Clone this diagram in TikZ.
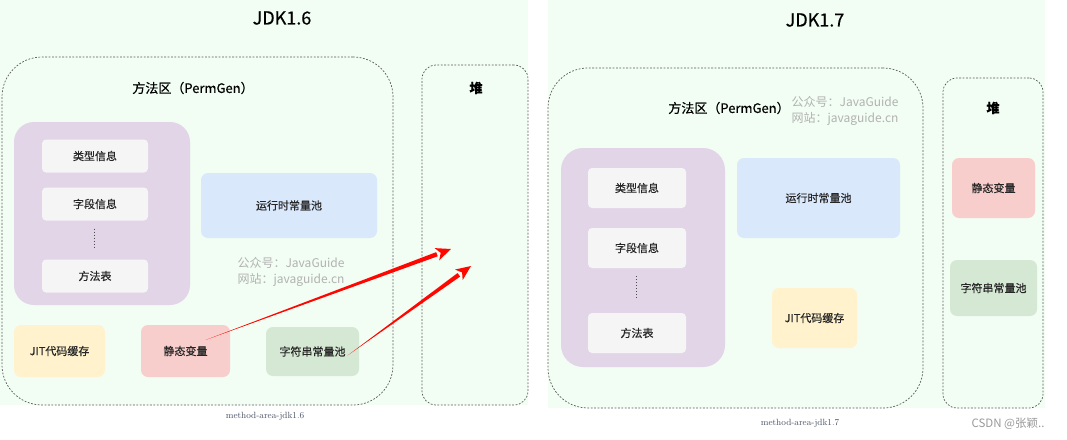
\documentclass[tikz,border=0pt]{standalone}
\usepackage{fontspec}
\newfontfamily\cjk{Noto Sans CJK SC}
\newfontfamily\cjkm[FakeBold=0.5]{Noto Sans CJK SC}
\usetikzlibrary{calc}
\definecolor{bgGreen}{HTML}{F2FDF3}
\definecolor{purpleBox}{HTML}{E1D5E7}
\definecolor{grayBox}{HTML}{F5F5F5}
\definecolor{blueBox}{HTML}{DAE8FC}
\definecolor{yellowBox}{HTML}{FFF2CC}
\definecolor{redBox}{HTML}{F8CECC}
\definecolor{greenBox}{HTML}{D5E8D4}
\definecolor{capText}{HTML}{4A5366}

\begin{document}
\begin{tikzpicture}[x=1pt,y=-1pt,
    every node/.style={inner sep=0pt, outer sep=0pt},
    area/.style={draw=black!65, dash pattern=on 1.8pt off 1.6pt, line width=0.7pt, rounded corners=#1},
    area/.default=40pt,
    box/.style={rounded corners=7pt, text=black!85, font=\cjkm\fontsize{11}{13}\selectfont},
    infobox/.style={box, fill=grayBox, minimum width=#1, minimum height=33pt, rounded corners=4pt},
    title/.style={font=\cjkm\fontsize{18}{20}\selectfont},
    head/.style={font=\cjkm\fontsize{13}{15}\selectfont},
    wmark/.style={font=\cjk\fontsize{12}{16}\selectfont, text=black!30, align=left},
    caption/.style={font=\fontsize{9}{10}\selectfont, text=capText},
    redarrow/.style={fill=red!95!orange}]
  \useasboundingbox (0,0) rectangle (1067,439);
  \fill[white] (0,0) rectangle (1067,439);
  \fill[bgGreen] (0,0) rectangle (528,405);
  \fill[bgGreen] (548,0) rectangle (1045,408);

  % JDK1.6
  \node[title] (t6) at (282,18) {JDK1.6};
  \node[area, minimum width=391pt, minimum height=348pt] (ma6) at (197.5,231) {};
  \node[area=14pt, minimum width=106pt, minimum height=340pt] (heap6) at (475,235) {};
  \node[head] (mah6) at (193,88) {方法区（PermGen）};
  \node[head] (hh6) at (476,88) {\textbf{堆}};
  \node[box, fill=purpleBox, minimum width=176pt, minimum height=183pt, rounded corners=20pt] (cls6) at (102,213.5) {};
  \node[infobox=106pt] (type6) at (95,156) {类型信息};
  \node[infobox=106pt] (field6) at (95,204) {字段信息};
  \node[infobox=106pt] (meth6) at (95,276) {方法表};
  \draw[dotted, line width=1pt, black!70] ($(field6.south)+(-1,8)$) -- ($(meth6.north)+(-1,-12)$);
  \node[box, fill=blueBox, minimum width=176pt, minimum height=65pt] (rcp6) at (289,205.5) {运行时常量池};
  \node[wmark] (wm6) at (291,272) {公众号：JavaGuide\\网站：javaguide.cn};
  \node[box, fill=yellowBox, minimum width=91pt, minimum height=52pt] (jit6) at (59.5,351) {JIT代码缓存};
  \node[box, fill=redBox, minimum width=89pt, minimum height=52pt] (static6) at (185.5,351) {静态变量};
  \node[box, fill=greenBox, minimum width=93pt, minimum height=49pt] (str6) at (312.5,351.5) {字符串常量池};
  \node[caption] (cap6) at (265,416) {method-area-jdk1.6};

  % arrows to the heap
  \coordinate (s1) at ($(static6.center)+(20,-11)$);
  \coordinate (e1) at (451,249);
  \coordinate (s2) at ($(str6.center)+(35,4)$);
  \coordinate (e2) at (471,266);
  \foreach \s/\e in {s1/e1,s2/e2}{
    \coordinate (b) at ($(\e)!15pt!(\s)$);
    \coordinate (bb) at ($(\e)!11pt!(\s)$);
    \fill[redarrow] (\s) -- ($(b)!2.2pt!90:(\e)$) -- ($(b)!2.2pt!-90:(\e)$) -- cycle;
    \fill[redarrow] (bb) -- ($(b)!6.5pt!90:(\e)$) -- (\e) -- ($(b)!6.5pt!-90:(\e)$) -- cycle;
  }

  % JDK1.7
  \node[title] (t7) at (815,20) {JDK1.7};
  \node[area, minimum width=375pt, minimum height=340pt] (ma7) at (735.5,238) {};
  \node[area=14pt, minimum width=100pt, minimum height=330pt] (heap7) at (993,243) {};
  \node[head] (mah7) at (729,108) {方法区（PermGen）};
  \node[wmark] (wm7) at (845,111) {公众号：JavaGuide\\网站：javaguide.cn};
  \node[head] (hh7) at (993,108) {\textbf{堆}};
  \node[box, fill=purpleBox, minimum width=164pt, minimum height=219pt, rounded corners=22pt] (cls7) at (643,257.5) {};
  \node[infobox=98pt, minimum height=40pt] (type7) at (637,188) {类型信息};
  \node[infobox=98pt, minimum height=40pt] (field7) at (637,248) {字段信息};
  \node[infobox=98pt, minimum height=40pt] (meth7) at (637,333) {方法表};
  \draw[dotted, line width=1pt, black!70] ($(field7.south)+(-1,8)$) -- ($(meth7.north)+(-1,-14)$);
  \node[box, fill=blueBox, minimum width=163pt, minimum height=80pt] (rcp7) at (818.5,198) {运行时常量池};
  \node[box, fill=yellowBox, minimum width=85pt, minimum height=60pt] (jit7) at (814.5,318) {JIT代码缓存};
  \node[box, fill=redBox, minimum width=83pt, minimum height=60pt] (static7) at (993.5,188) {静态变量};
  \node[box, fill=greenBox, minimum width=87pt, minimum height=56pt] (str7) at (993.5,288) {字符串常量池};
  \node[caption] (cap7) at (800,423) {method-area-jdk1.7};
  \node[font=\cjk\fontsize{11.5}{13}\selectfont, text=black!40] (csdn) at (1008,424) {CSDN @张颖..};
\end{tikzpicture}
\end{document}
